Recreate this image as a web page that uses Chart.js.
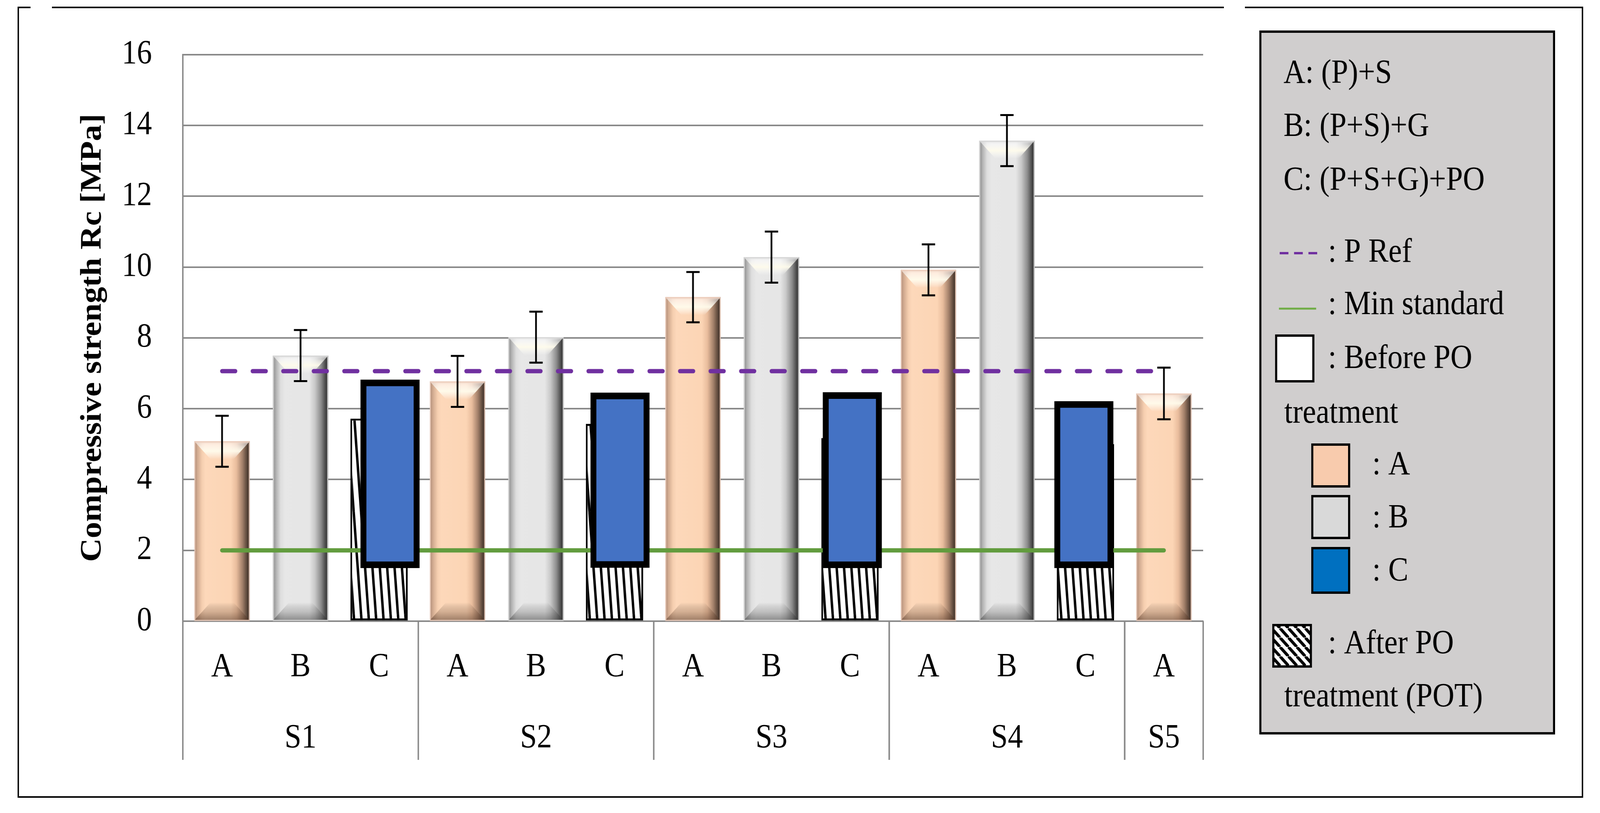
<!DOCTYPE html>
<html>
<head>
<meta charset="utf-8">
<title>Compressive strength Rc</title>
<script src="https://cdn.jsdelivr.net/npm/chart.js@4.4.0/dist/chart.umd.min.js"></script>
<style>
  html, body { margin: 0; padding: 0; background: #fff; overflow: hidden; }
  canvas { display: block; }
</style>
</head>
<body>
<canvas id="strength-chart" width="4560" height="2081" style="width:100vw;height:100vh"></canvas>
<script>
// x axis: one slot per bar, grouped by series S1..S5
var categories = ['A', 'B', 'C', 'A', 'B', 'C', 'A', 'B', 'C', 'A', 'B', 'C', 'A'];
var seriesNames = ['S1', 'S2', 'S3', 'S4', 'S5'];
var seriesSize = [3, 3, 3, 3, 1];

// A: (P)+S  (S1..S5)
var mixA = [5.08, 6.77, 9.15, 9.92, 6.43];
var mixAError = [0.72, 0.72, 0.71, 0.72, 0.73];
// B: (P+S)+G  (S1..S4)
var mixB = [7.50, 8.02, 10.28, 13.57];
var mixBError = [0.72, 0.72, 0.72, 0.72];
// C: (P+S+G)+PO before PO treatment, floating bar low..high  (S1..S4)
var mixCBeforeLow = [1.50, 1.51, 1.50, 1.50];
var mixCBeforeHigh = [6.82, 6.45, 6.46, 6.21];
// C after PO treatment (POT)  (S1..S4)
var mixCAfter = [5.72, 5.57, 5.17, 5.00];

// reference lines
var pRef = 7.06;
var minStandard = 2.0;

// y axis ticks
var yMin = 0;
var yMax = 16;
var yStep = 2;

// ---- styling ----
var serif = "'Liberation Serif', 'Times New Roman', serif";
var barShare = 0.706;
// small sideways nudge of the "before" bars, in category widths
var beforeNudge = [0.14, 0.07, 0.03, -0.02];

var peachStops = [[0, '#a88672'], [0.05, '#cfa88e'], [0.14, '#f6cfb0'], [0.2, '#fdd8ba'],
  [0.66, '#fcd5b5'], [0.76, '#e9bd9d'], [0.87, '#a17f69'], [0.95, '#5a463a'], [1, '#3a2c24']];
var grayStops = [[0, '#878787'], [0.06, '#b3b3b3'], [0.14, '#dedede'], [0.22, '#e7e7e7'],
  [0.66, '#e6e6e6'], [0.76, '#c9c9c9'], [0.87, '#8c8c8c'], [0.95, '#4a4a4a'], [1, '#2c2c2c']];

// put one value per series into its slot (0 = A, 1 = B, 2 = C)
function spread(values, slot) {
  var out = categories.map(function() { return null; });
  var start = 0;
  seriesSize.forEach(function(size, s) {
    if (slot < size && s < values.length) {
      out[start + slot] = values[s];
    }
    start += size;
  });
  return out;
}

function beforeBars() {
  var out = [];
  var start = 0;
  seriesSize.forEach(function(size, s) {
    if (size > 2) {
      out.push({ x: start + 2 + beforeNudge[s], y: [mixCBeforeLow[s], mixCBeforeHigh[s]] });
    }
    start += size;
  });
  return out;
}

function makeHatch(ctx, step, rise, width) {
  var tile = document.createElement('canvas');
  tile.width = step;
  tile.height = rise;
  var t = tile.getContext('2d');
  t.fillStyle = '#fff';
  t.fillRect(0, 0, step, rise);
  t.strokeStyle = '#000';
  t.lineWidth = width;
  [-step, 0, step].forEach(function(dx) {
    t.beginPath();
    t.moveTo(dx, 0);
    t.lineTo(dx + step, rise);
    t.stroke();
  });
  return ctx.createPattern(tile, 'repeat');
}

// horizontal shading across each bar (gives the rounded 3D look)
function bevelFill(stops) {
  return function(context) {
    var chart = context.chart;
    var xScale = chart.scales.x;
    if (!xScale || context.type !== 'data') return stops[4][1];
    var cx = xScale.getPixelForValue(context.dataIndex);
    var half = (xScale.right - xScale.left) / categories.length * barShare / 2;
    if (!isFinite(cx) || !isFinite(half) || half <= 0) return stops[4][1];
    var g = chart.ctx.createLinearGradient(cx - half, 0, cx + half, 0);
    stops.forEach(function(s) { g.addColorStop(s[0], s[1]); });
    return g;
  };
}

// top highlight + bottom shade facets on the A and B bars
var bevelPlugin = {
  id: 'bevel',
  afterDatasetDraw: function(chart, args) {
    var ds = chart.data.datasets[args.index];
    if (!ds.bevel) return;
    var ctx = chart.ctx;
    ctx.save();
    args.meta.data.forEach(function(bar, i) {
      if (ds.data[i] == null) return;
      var p = bar.getProps(['x', 'y', 'base', 'width'], true);
      var left = p.x - p.width / 2;
      var right = p.x + p.width / 2;
      var d = Math.min(46, (p.base - p.y) / 2);

      var g = ctx.createLinearGradient(0, p.y, 0, p.y + d);
      g.addColorStop(0, ds.bevel.rim);
      g.addColorStop(0.18, 'rgba(255,255,255,0.55)');
      g.addColorStop(0.55, 'rgba(255,252,236,0.95)');
      g.addColorStop(1, 'rgba(255,255,255,0)');
      ctx.fillStyle = g;
      ctx.beginPath();
      ctx.moveTo(left, p.y);
      ctx.lineTo(right, p.y);
      ctx.lineTo(right - d, p.y + d);
      ctx.lineTo(left + d, p.y + d);
      ctx.closePath();
      ctx.fill();

      var b = ctx.createLinearGradient(0, p.base - d, 0, p.base);
      b.addColorStop(0, 'rgba(0,0,0,0)');
      b.addColorStop(0.5, ds.bevel.shade);
      b.addColorStop(1, ds.bevel.shadeDeep);
      ctx.fillStyle = b;
      ctx.beginPath();
      ctx.moveTo(left, p.base);
      ctx.lineTo(right, p.base);
      ctx.lineTo(right - d, p.base - d);
      ctx.lineTo(left + d, p.base - d);
      ctx.closePath();
      ctx.fill();

      ctx.strokeStyle = ds.bevel.rim;
      ctx.lineWidth = 3;
      ctx.strokeRect(left + 1.5, p.y + 1.5, p.width - 3, p.base - p.y - 1.5);
    });
    ctx.restore();
  }
};

var errorBarPlugin = {
  id: 'errorBars',
  afterDatasetsDraw: function(chart) {
    var x = chart.scales.x;
    var y = chart.scales.y;
    var ctx = chart.ctx;
    ctx.save();
    ctx.strokeStyle = '#000';
    ctx.lineWidth = 5;
    chart.data.datasets.forEach(function(ds) {
      if (!ds.errors) return;
      ds.data.forEach(function(v, i) {
        if (v == null) return;
        var px = x.getPixelForValue(i);
        var top = y.getPixelForValue(v + ds.errors[i]);
        var bot = y.getPixelForValue(v - ds.errors[i]);
        ctx.beginPath();
        ctx.moveTo(px, top);
        ctx.lineTo(px, bot);
        ctx.moveTo(px - 19, top);
        ctx.lineTo(px + 19, top);
        ctx.moveTo(px - 19, bot);
        ctx.lineTo(px + 19, bot);
        ctx.stroke();
      });
    });
    ctx.restore();
  }
};

// second row of the category axis: S1..S5 with table-like separators
var groupAxisPlugin = {
  id: 'groupAxis',
  afterDraw: function(chart) {
    var x = chart.scales.x;
    var ctx = chart.ctx;
    var slot = (x.right - x.left) / categories.length;
    var top = chart.chartArea.bottom;
    ctx.save();
    ctx.strokeStyle = '#898989';
    ctx.lineWidth = 4;
    ctx.fillStyle = '#000';
    ctx.font = '86px ' + serif;
    ctx.textAlign = 'center';
    ctx.textBaseline = 'middle';
    var start = 0;
    seriesNames.forEach(function(name, s) {
      var from = x.getPixelForValue(start) - slot / 2;
      var to = x.getPixelForValue(start + seriesSize[s] - 1) + slot / 2;
      ctx.beginPath();
      ctx.moveTo(from, top);
      ctx.lineTo(from, top + 355);
      ctx.moveTo(to, top);
      ctx.lineTo(to, top + 355);
      ctx.stroke();
      ctx.fillText(name, (from + to) / 2, top + 300);
      start += seriesSize[s];
    });
    ctx.restore();
  }
};

var hatchLegend;

var sideLegendPlugin = {
  id: 'sideLegend',
  afterDraw: function(chart) {
    var ctx = chart.ctx;
    ctx.save();
    ctx.fillStyle = '#D0CECE';
    ctx.fillRect(3592, 81, 837, 1796);
    ctx.strokeStyle = '#000';
    ctx.lineWidth = 6;
    ctx.strokeRect(3592, 81, 837, 1796);

    // line markers
    ctx.lineWidth = 6;
    ctx.strokeStyle = '#7030A0';
    ctx.setLineDash([25, 16]);
    ctx.beginPath();
    ctx.moveTo(3647, 648);
    ctx.lineTo(3755, 648);
    ctx.stroke();
    ctx.setLineDash([]);
    ctx.strokeStyle = '#70AD47';
    ctx.lineWidth = 5;
    ctx.beginPath();
    ctx.moveTo(3645, 790);
    ctx.lineTo(3751, 790);
    ctx.stroke();

    // box markers
    var boxes = [
      [3637, 859, 106, 117, '#FFFFFF'],
      [3740, 1138, 105, 107, '#F8CBAD'],
      [3740, 1270, 105, 107, '#D9D9D9'],
      [3740, 1403, 105, 114, '#0070C0'],
      [3629, 1600, 107, 106, hatchLegend]
    ];
    ctx.lineWidth = 6;
    ctx.strokeStyle = '#000';
    boxes.forEach(function(b) {
      ctx.fillStyle = b[4];
      ctx.fillRect(b[0], b[1], b[2], b[3]);
      ctx.strokeRect(b[0], b[1], b[2], b[3]);
    });

    var rows = [
      ['A: (P)+S', 3658, 212],
      ['B: (P+S)+G', 3658, 348],
      ['C: (P+S+G)+PO', 3658, 486],
      [': P Ref', 3785, 670],
      [': Min standard', 3785, 804],
      [': Before PO', 3785, 942],
      ['treatment', 3660, 1082],
      [': A', 3911, 1214],
      [': B', 3911, 1350],
      [': C', 3911, 1486],
      [': After PO', 3785, 1672],
      ['treatment (POT)', 3660, 1808]
    ];
    ctx.fillStyle = '#000';
    ctx.font = '86px ' + serif;
    ctx.textAlign = 'left';
    ctx.textBaseline = 'alphabetic';
    rows.forEach(function(r) {
      ctx.fillText(r[0], r[1], r[2]);
    });
    ctx.restore();
  }
};

// thin outer frame with the two small gaps along the top
var framePlugin = {
  id: 'frame',
  afterDraw: function(chart) {
    var ctx = chart.ctx;
    ctx.save();
    ctx.strokeStyle = '#000';
    ctx.lineWidth = 4;
    ctx.beginPath();
    ctx.moveTo(52, 19); ctx.lineTo(87, 19);
    ctx.moveTo(148, 19); ctx.lineTo(3488, 19);
    ctx.moveTo(3548, 19); ctx.lineTo(4510, 19);
    ctx.moveTo(52, 17); ctx.lineTo(52, 2040);
    ctx.lineTo(4510, 2040);
    ctx.lineTo(4510, 17);
    ctx.stroke();
    ctx.restore();
  }
};

function new_StrengthChart() {
  var canvas = document.getElementById('strength-chart');
  var ctx = canvas.getContext('2d');
  var hatchBar = makeHatch(ctx, 21, 262, 7);
  hatchLegend = makeHatch(ctx, 24, 24, 8);

  Chart.defaults.font.family = serif;
  Chart.defaults.color = '#000';

  return new Chart(ctx, {
    type: 'bar',
    data: {
      labels: categories,
      datasets: [{
        type: 'line',
        label: 'P Ref',
        data: categories.map(function() { return pRef; }),
        xAxisID: 'x',
        borderColor: '#7030A0',
        borderWidth: 11,
        borderDash: [38, 49],
        borderCapStyle: 'round',
        pointRadius: 0,
        fill: false,
        order: 0
      }, {
        label: 'Before PO treatment',
        data: beforeBars(),
        xAxisID: 'xs',
        backgroundColor: '#4472C4',
        borderColor: '#000',
        borderWidth: 17,
        borderSkipped: false,
        barThickness: 168,
        order: 1
      }, {
        type: 'line',
        label: 'Min standard',
        data: categories.map(function() { return minStandard; }),
        xAxisID: 'x',
        borderColor: '#629C3E',
        borderWidth: 11,
        borderCapStyle: 'round',
        pointRadius: 0,
        fill: false,
        order: 2
      }, {
        label: 'After PO treatment (POT)',
        data: spread(mixCAfter, 2),
        xAxisID: 'x',
        backgroundColor: hatchBar,
        borderColor: '#000',
        borderWidth: 5,
        borderSkipped: false,
        barPercentage: 0.73,
        order: 3
      }, {
        label: 'A',
        data: spread(mixA, 0),
        errors: spread(mixAError, 0),
        xAxisID: 'x',
        backgroundColor: bevelFill(peachStops),
        bevel: { rim: 'rgba(236,205,188,0.9)', shade: 'rgba(95,62,42,0.25)', shadeDeep: 'rgba(80,52,36,0.55)' },
        order: 3
      }, {
        label: 'B',
        data: spread(mixB, 1),
        errors: spread(mixBError, 1),
        xAxisID: 'x',
        backgroundColor: bevelFill(grayStops),
        bevel: { rim: 'rgba(215,215,215,0.95)', shade: 'rgba(60,60,60,0.22)', shadeDeep: 'rgba(50,50,50,0.5)' },
        order: 3
      }]
    },
    options: {
      responsive: false,
      animation: false,
      devicePixelRatio: 1,
      layout: { padding: { left: 215, right: 1131, top: 126, bottom: 0 } },
      datasets: {
        bar: { grouped: false, categoryPercentage: 1, barPercentage: barShare }
      },
      plugins: {
        legend: { display: false },
        tooltip: { enabled: false }
      },
      scales: {
        x: {
          type: 'category',
          offset: true,
          grid: { display: false, drawTicks: false },
          border: { display: true, color: '#898989', width: 4 },
          ticks: { font: { size: 86 }, color: '#000', padding: 67, maxRotation: 0, autoSkip: false },
          afterFit: function(scale) { scale.height = 491; }
        },
        xs: { type: 'linear', display: false, offset: false, min: -0.5, max: categories.length - 0.5 },
        y: {
          min: yMin,
          max: yMax,
          ticks: { stepSize: yStep, font: { size: 86 }, color: '#000', padding: 88 },
          grid: { color: '#898989', lineWidth: 4, drawTicks: false },
          border: { color: '#898989', width: 4 },
          title: {
            display: true,
            text: 'Compressive strength Rc [MPa]',
            font: { size: 84, weight: 'bold' },
            color: '#000',
            padding: 0
          },
          afterFit: function(scale) { scale.width = 306; }
        }
      }
    },
    plugins: [bevelPlugin, errorBarPlugin, groupAxisPlugin, sideLegendPlugin, framePlugin]
  });
}

new_StrengthChart();
</script>
</body>
</html>
